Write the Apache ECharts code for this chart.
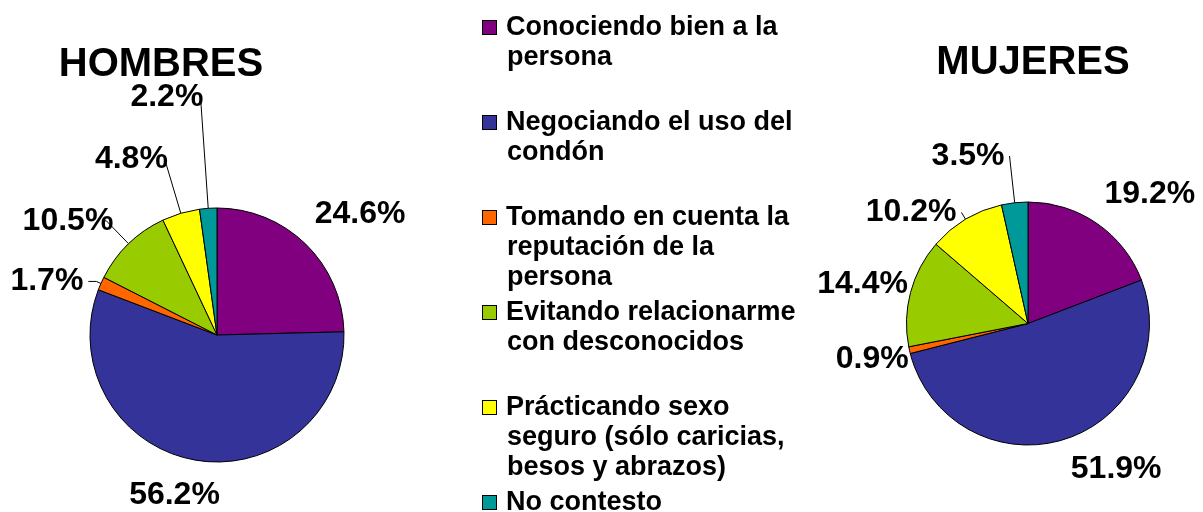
<!DOCTYPE html>
<html>
<head>
<meta charset="utf-8">
<script src="https://cdn.jsdelivr.net/npm/echarts@6/dist/echarts.min.js"></script>
<style>
  html, body { margin: 0; padding: 0; background: #fff; }
  #chart { width: 1203px; height: 512px; }
</style>
</head>
<body>
<div id="chart"></div>
<script>
const categories = [
  'Conociendo bien a la\npersona',
  'Negociando el uso del\ncondón',
  'Tomando en cuenta la\nreputación de la\npersona',
  'Evitando relacionarme\ncon desconocidos',
  'Prácticando sexo\nseguro (sólo caricias,\nbesos y abrazos)',
  'No contesto'
]
const hombres = [24.6, 56.2, 1.7, 10.5, 4.8, 2.2]
const mujeres = [19.2, 51.9, 0.9, 14.4, 10.2, 3.5]
const colors = ['#800080', '#333399', '#FF6600', '#99CC00', '#FFFF00', '#009999']

// leader line [length, length2, show] and label nudge [dx, dy] per slice
const hombresLines = [[10, 0, false], [10, 0, false], [5, 8, true], [32, 3, true], [56, 0, true], [114, 0, true]]
const hombresNudge = [[-3, -23], [31, 25], [0, 0], [15, 0], [8, 0], [8, 3]]
const mujeresLines = [[10, 0, false], [10, 0, false], [10, 0, false], [10, 0, false], [8, 0, true], [47, 0, true]]
const mujeresNudge = [[-3, -21], [-2, 20], [14, 7], [12, -6], [0, 0], [0, 0]]

const font = "'Liberation Sans', Arial, sans-serif"

function buildData(values, lines) {
  return values.map((v, i) => ({
    name: categories[i],
    value: v,
    labelLine: { show: lines[i][2], length: lines[i][0], length2: lines[i][1] }
  }))
}

function legendText(name) {
  const i = categories.indexOf(name)
  const lines = name.split('\n')
  while (lines.length < 3) lines.push(' ')
  return lines.map((l, k) => (k === 0 ? '{sq' + i + '|}{g|}' : '{ind|}') + '{t|' + l + '}').join('\n')
}

const rich = {
  t: { fontFamily: font, fontSize: 27, fontWeight: 'bold', lineHeight: 30, color: '#000' },
  g: { width: 10 },
  ind: { width: 24 }
}
colors.forEach((c, i) => {
  rich['sq' + i] = { width: 13, height: 13, backgroundColor: c, borderColor: '#000', borderWidth: 1 }
})

function pieSeries(name, center, radius, values, lines, nudge) {
  return {
    name: name,
    type: 'pie',
    center: center,
    radius: radius,
    startAngle: 90,
    clockwise: true,
    avoidLabelOverlap: false,
    animation: false,
    itemStyle: { borderColor: '#000', borderWidth: 1 },
    label: {
      position: 'outside',
      formatter: p => p.value.toFixed(1) + '%',
      fontFamily: font,
      fontSize: 32,
      fontWeight: 'bold',
      color: '#000'
    },
    labelLine: { lineStyle: { color: '#000', width: 1 } },
    labelLayout: p => ({ dx: nudge[p.dataIndex][0], dy: nudge[p.dataIndex][1] }),
    emphasis: { scale: false },
    data: buildData(values, lines)
  }
}

const chart = echarts.init(document.getElementById('chart'))
chart.setOption({
  color: colors,
  textStyle: { fontFamily: font },
  tooltip: { trigger: 'item', formatter: p => p.seriesName + '<br/>' + p.name.replace(/\n/g, ' ') + ': ' + p.value + '%' },
  title: [
    { text: 'HOMBRES', left: 161, top: 45, padding: 0, textAlign: 'center', textStyle: { fontFamily: font, fontSize: 40, fontWeight: 'bold', color: '#000' } },
    { text: 'MUJERES', left: 1033, top: 43, padding: 0, textAlign: 'center', textStyle: { fontFamily: font, fontSize: 40, fontWeight: 'bold', color: '#000' } }
  ],
  legend: {
    orient: 'vertical',
    left: 478,
    top: 14,
    height: 700,
    padding: 0,
    itemGap: 8,
    itemWidth: 0,
    itemHeight: 14,
    icon: 'none',
    data: categories,
    formatter: legendText,
    textStyle: { rich: rich }
  },
  series: [
    pieSeries('HOMBRES', [217, 335], 127, hombres, hombresLines, hombresNudge),
    pieSeries('MUJERES', [1028, 323.5], 121.5, mujeres, mujeresLines, mujeresNudge)
  ]
})
</script>
</body>
</html>
